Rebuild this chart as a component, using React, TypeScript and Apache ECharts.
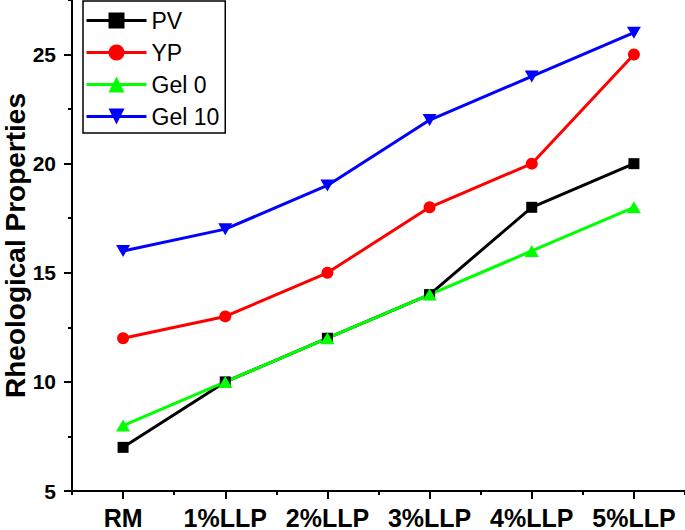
import React, { useEffect, useRef } from "react";
import * as echarts from "echarts";

const categories = ["RM", "1%LLP", "2%LLP", "3%LLP", "4%LLP", "5%LLP"];
const pv = [7, 10, 12, 14, 18, 20];
const yp = [12, 13, 15, 18, 20, 25];
const gel0 = [8, 10, 12, 14, 16, 18];
const gel10 = [16, 17, 19, 22, 24, 26];
const yMajorTicks = [5, 10, 15, 20, 25];

const FONT = "'Liberation Sans', Arial, sans-serif";

export default function App() {
  const ref = useRef<HTMLDivElement>(null);
  useEffect(() => {
    document.body.style.margin = "0";
    if (!ref.current) return;
    const chart = echarts.init(ref.current, null, { renderer: "svg" });
    const axisLine = { show: true, lineStyle: { color: "#000", width: 2 } };
    chart.setOption({
      animation: false,
      backgroundColor: "#fff",
      textStyle: { fontFamily: FONT },
      grid: { left: 72, right: 0, top: 0, bottom: 39, containLabel: false, outerBoundsMode: "none" },
      legend: {
        orient: "vertical",
        left: 83,
        top: 1,
        padding: [8, 6, 5, 2],
        itemGap: 9,
        itemWidth: 60,
        itemHeight: 20,
        itemTextGap: 5,
        borderColor: "#000",
        borderWidth: 1.5,
        lineStyle: { width: 3 },
        textStyle: { fontSize: 23, color: "#000", fontFamily: FONT },
        data: ["PV", "YP", "Gel 0", "Gel 10"],
      },
      xAxis: [
        {
          type: "category",
          data: categories,
          boundaryGap: true,
          position: "bottom",
          axisLine,
          axisTick: { show: true, alignWithLabel: true, length: 8, lineStyle: { color: "#000", width: 2 } },
          axisLabel: { color: "#000", fontSize: 25, fontWeight: "bold", margin: 14, interval: 0, hideOverlap: false, fontFamily: FONT },
          splitLine: { show: false },
        },
        {
          type: "category",
          data: categories,
          boundaryGap: true,
          position: "bottom",
          axisLine: { show: false },
          axisTick: { show: true, alignWithLabel: false, interval: 0, length: 4, lineStyle: { color: "#000", width: 2 } },
          axisLabel: { show: false },
          splitLine: { show: false },
        },
      ],
      yAxis: [
        {
          type: "value",
          min: 5,
          max: 27.5,
          interval: 5,
          position: "left",
          name: "Rheological Properties",
          nameLocation: "middle",
          nameGap: 43,
          nameMoveOverlap: false,
          nameTextStyle: { fontSize: 28, lineHeight: 28, fontWeight: "bold", color: "#000", fontFamily: FONT },
          axisLine,
          axisTick: { show: true, length: 8, customValues: yMajorTicks, lineStyle: { color: "#000", width: 2 } },
          axisLabel: {
            color: "#000",
            fontSize: 21,
            fontWeight: "bold",
            margin: 16,
            fontFamily: FONT,
            formatter: (v: number) => (v % 5 === 0 ? String(v) : ""),
          },
          splitLine: { show: false },
        },
        {
          type: "value",
          min: 5,
          max: 27.5,
          interval: 2.5,
          position: "left",
          axisLine: { show: false },
          axisTick: { show: true, length: 4, lineStyle: { color: "#000", width: 2 } },
          axisLabel: { show: false },
          splitLine: { show: false },
        },
      ],
      series: [
        {
          name: "PV",
          type: "line",
          data: pv,
          symbol: "rect",
          symbolSize: 11,
          color: "#000000",
          lineStyle: { width: 3, color: "#000000" },
          itemStyle: { color: "#000000" },
        },
        {
          name: "YP",
          type: "line",
          data: yp,
          symbol: "circle",
          symbolSize: 12,
          color: "#ff0000",
          lineStyle: { width: 3, color: "#ff0000" },
          itemStyle: { color: "#ff0000" },
        },
        {
          name: "Gel 0",
          type: "line",
          data: gel0,
          symbol: "triangle",
          symbolSize: [14, 12],
          color: "#00ff00",
          lineStyle: { width: 3, color: "#00ff00" },
          itemStyle: { color: "#00ff00" },
        },
        {
          name: "Gel 10",
          type: "line",
          data: gel10,
          symbol: "triangle",
          symbolRotate: 180,
          symbolSize: [14, 12],
          color: "#0000ff",
          lineStyle: { width: 3, color: "#0000ff" },
          itemStyle: { color: "#0000ff" },
        },
      ],
    });
    return () => chart.dispose();
  }, []);
  return <div ref={ref} style={{ width: 685, height: 530 }} />;
}
